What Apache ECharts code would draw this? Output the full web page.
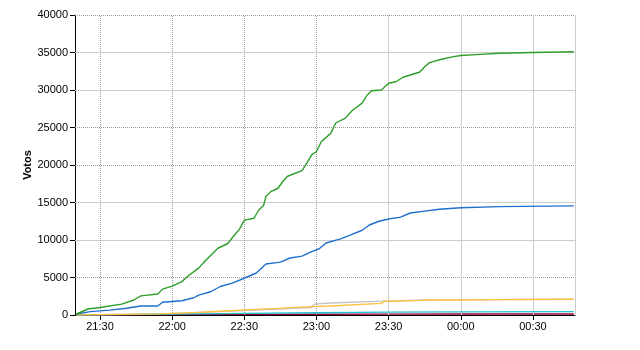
<!DOCTYPE html>
<html>
<head>
<meta charset="utf-8">
<script src="https://cdn.jsdelivr.net/npm/echarts@6/dist/echarts.min.js"></script>
<style>html,body{margin:0;padding:0;background:#fff;}#c{width:640px;height:350px;}</style>
</head>
<body>
<div id="c"></div>
<script>
// ---- data ----
const xTickLabels = ['21:30','22:00','22:30','23:00','23:30','00:00','00:30'];
const yTicks = [0,5000,10000,15000,20000,25000,30000,35000,40000];
const axisStart = '21:19.6';
const axisEnd = '00:47.5';

const greenTimes = ['21:20','21:25','21:30','21:39','21:44','21:47','21:54','21:56','22:00','22:04','22:07','22:11','22:14','22:19','22:23','22:26','22:28','22:30','22:34','22:36','22:38','22:39','22:41','22:44','22:46','22:48','22:54','22:56','22:58','23:00','23:02','23:06','23:08','23:12','23:15','23:19','23:21','23:23','23:27','23:30','23:33','23:36','23:40','23:43','23:45','23:47','23:52','23:57','00:00','00:08','00:16','00:30','00:47'];
const greenValues = [100,800,1000,1450,2000,2550,2800,3450,3850,4450,5300,6250,7300,8900,9500,10700,11450,12650,12900,14000,14600,15800,16450,16900,17800,18500,19250,20250,21350,21800,23100,24250,25600,26250,27300,28250,29300,29900,30000,30900,31100,31700,32100,32400,33100,33650,34100,34450,34600,34750,34900,35000,35100];

const blueTimes = ['21:20','21:26','21:34','21:41','21:47','21:54','21:56','22:04','22:09','22:11','22:16','22:20','22:25','22:30','22:35','22:39','22:45','22:49','22:54','22:58','23:01','23:04','23:10','23:14','23:19','23:22','23:26','23:30','23:35','23:39','23:45','23:51','00:00','00:16','00:47'];
const blueValues = [130,450,650,900,1200,1200,1700,1900,2300,2650,3100,3800,4250,4900,5600,6800,7050,7600,7850,8450,8800,9600,10150,10650,11300,12000,12500,12800,13050,13600,13850,14100,14300,14450,14550];

const grayTimes = ['21:20','21:30','22:00','22:30','22:58','22:59','23:06','23:28','23:46','00:16','00:47'];
const grayValues = [0,30,200,600,1000,1450,1600,1850,2000,2050,2100];

const orangeTimes = ['21:20','21:30','21:55','22:11','22:20','22:29','23:00','23:06','23:27','23:28','23:43','23:46','00:16','00:47'];
const orangeValues = [0,50,150,350,500,650,1150,1200,1550,1800,1950,2000,2050,2100];

const cyanTimes = ['21:20','21:30','22:00','22:30','23:00','23:30','00:00','00:47'];
const cyanValues = [0,20,120,220,300,380,420,450];

const maroonTimes = ['21:20','21:30','22:00','22:30','23:00','23:30','00:00','00:47'];
const maroonValues = [0,10,50,80,100,120,130,140];

// ---- helpers ----
function toMin(s){
  const p = s.split(':');
  let h = parseInt(p[0],10); const m = parseFloat(p[1]);
  if (h < 12) h += 24;
  return h*60 + m - 21*60;
}
function fmt(v){
  let tot = Math.round(v + 21*60);
  let h = Math.floor(tot/60) % 24, m = tot % 60;
  return String(h).padStart(2,'0') + ':' + String(m).padStart(2,'0');
}
function pairs(ts, vs){ return ts.map((t,i)=>[toMin(t), vs[i]]); }

const xTicks = xTickLabels.map(toMin);
const xMin = toMin(axisStart), xMax = toMin(axisEnd);

const DOT = {color:'#999999', type:[1,1], width:1};
const SOLID = {color:'#cccccc', type:'solid', width:1};
// styling choice per grid line (visual only)
const yGridStyle = v => ([5000,20000,25000,40000].indexOf(v) >= 0 ? DOT : SOLID);
const xGridStyle = (v,i) => (i < 4 ? DOT : SOLID);

const gridLines = [];
yTicks.forEach(v => { if (v > 0) gridLines.push({yAxis: v, lineStyle: yGridStyle(v)}); });
xTicks.forEach((v,i) => gridLines.push({xAxis: v, lineStyle: xGridStyle(v,i)}));
gridLines.push({xAxis: xMax, lineStyle: SOLID});

const font = 'Liberation Sans, Arial, sans-serif';
function line(name, d, color, z){
  return {name, type:'line', data:d, showSymbol:false, symbol:'none', smooth:false,
    lineStyle:{color, width:1.4}, itemStyle:{color}, z, animation:false};
}

const chart = echarts.init(document.getElementById('c'), null, {renderer:'canvas'});
chart.setOption({
  animation:false,
  backgroundColor:'#ffffff',
  grid:{left:75, right:65, top:15, bottom:35, containLabel:false},
  xAxis:{
    type:'value', min:xMin, max:xMax,
    axisLine:{show:true, onZero:false, lineStyle:{color:'#000', width:1}},
    axisTick:{show:true, length:5, lineStyle:{color:'#000'}, customValues: xTicks},
    axisLabel:{customValues: xTicks, formatter: fmt, color:'#000', fontSize:11, fontFamily:font, margin:6},
    splitLine:{show:false}
  },
  yAxis:{
    type:'value', min:0, max:40000, interval:5000,
    name:'Votos', nameLocation:'middle', nameGap:42, nameMoveOverlap:false,
    nameTextStyle:{fontWeight:'bold', fontSize:11, fontFamily:font, color:'#000'},
    axisLine:{show:true, lineStyle:{color:'#000', width:1}},
    axisTick:{show:true, length:5, lineStyle:{color:'#000'}},
    axisLabel:{color:'#000', fontSize:11, fontFamily:font, margin:7, formatter: v => String(v)},
    splitLine:{show:false}
  },
  series:[
    {type:'line', data:[], z:1, silent:true,
     markLine:{silent:true, symbol:['none','none'], label:{show:false}, animation:false, data: gridLines}},
    line('gray', pairs(grayTimes, grayValues), '#c4c4c4', 3),
    line('maroon', pairs(maroonTimes, maroonValues), '#990033', 4),
    line('cyan', pairs(cyanTimes, cyanValues), '#22c4d4', 5),
    line('orange', pairs(orangeTimes, orangeValues), '#ffc13f', 6),
    line('blue', pairs(blueTimes, blueValues), '#1f6fcc', 7),
    line('green', pairs(greenTimes, greenValues), '#2e9e2a', 8)
  ]
});
</script>
</body>
</html>
